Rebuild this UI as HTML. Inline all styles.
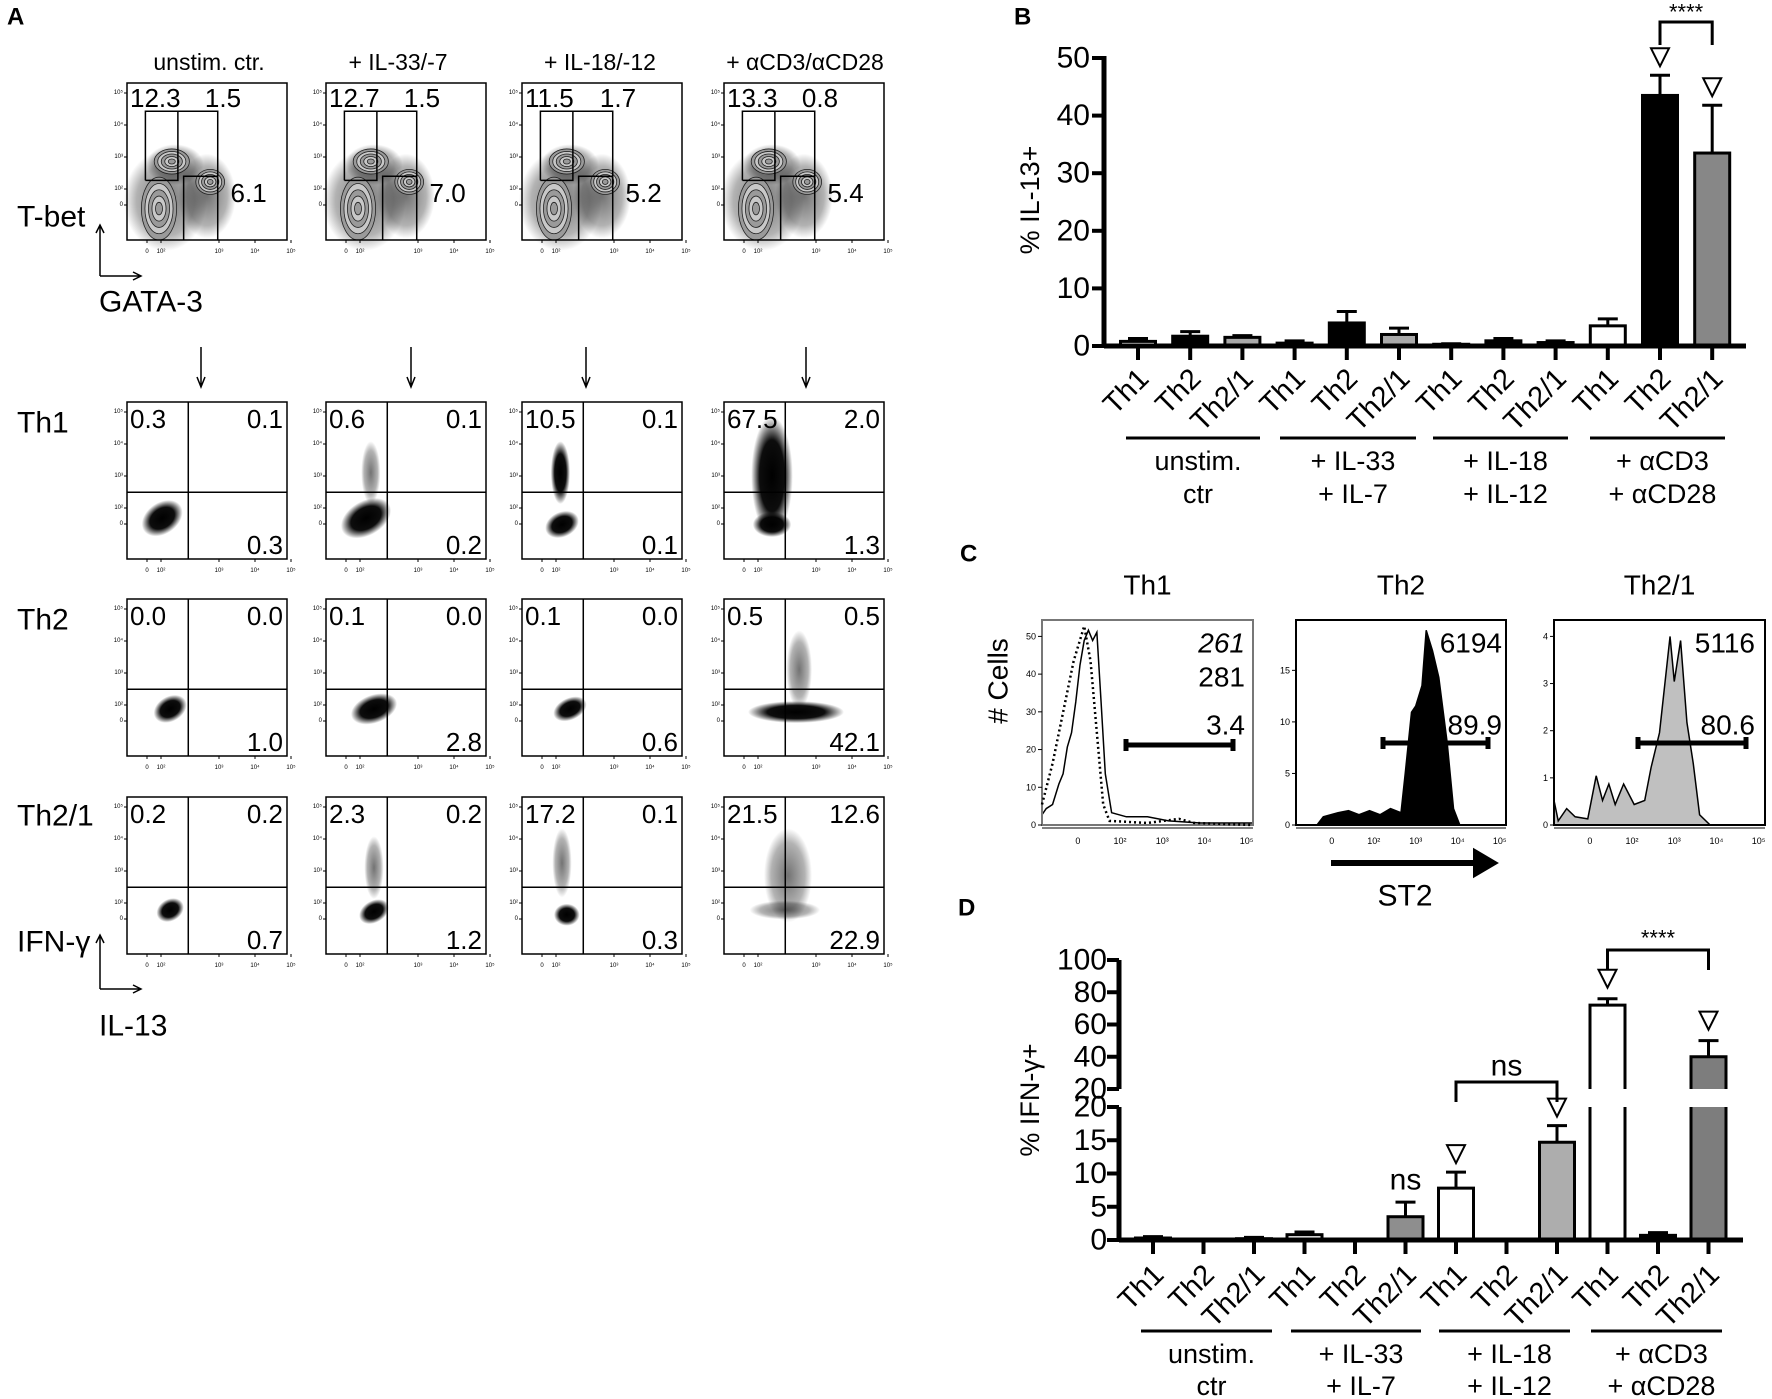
<!DOCTYPE html>
<html><head><meta charset="utf-8">
<style>
html,body{margin:0;padding:0;background:#fff;}
svg{display:block;}
text{font-family:"Liberation Sans",Arial,sans-serif;fill:#000;}
</style></head>
<body>
<svg id="fig" xmlns="http://www.w3.org/2000/svg" width="1772" height="1399" viewBox="0 0 1772 1399">
<defs>
<radialGradient id="blob"><stop offset="0" stop-color="#000" stop-opacity="1"/><stop offset="0.6" stop-color="#000" stop-opacity="0.95"/><stop offset="1" stop-color="#000" stop-opacity="0"/></radialGradient>
<radialGradient id="blobLight"><stop offset="0" stop-color="#000" stop-opacity="0.55"/><stop offset="0.7" stop-color="#000" stop-opacity="0.3"/><stop offset="1" stop-color="#000" stop-opacity="0"/></radialGradient>
</defs>
</svg>
<script>
// ===== Panel B data =====
const catsB = ["Th1","Th2","Th2/1","Th1","Th2","Th2/1","Th1","Th2","Th2/1","Th1","Th2","Th2/1"];
const valsB = [0.8,1.7,1.5,0.5,4.0,2.0,0.3,0.9,0.6,3.5,43.5,33.5];
const errB  = [1.3,2.5,1.8,0.9,6.0,3.1,0.4,1.3,0.9,4.7,47.0,41.8];
const ticksB = [0,10,20,30,40,50];
// ===== Panel D data =====
const catsD = ["Th1","Th2","Th2/1","Th1","Th2","Th2/1","Th1","Th2","Th2/1","Th1","Th2","Th2/1"];
const valsD = [0.3,0,0.2,0.8,0,3.5,7.8,0.1,14.7,72,0.7,40];
const errD  = [0.5,0,0.4,1.2,0,5.7,10.2,0.1,17.2,76,1.1,50];
const ticksDLow = [0,5,10,15,20];
const ticksDHigh = [20,40,60,80,100];
const groups = [["unstim.","ctr"],["+ IL-33","+ IL-7"],["+ IL-18","+ IL-12"],["+ \u03b1CD3","+ \u03b1CD28"]];

const NS="http://www.w3.org/2000/svg";
const svg=document.getElementById('fig');
function mk(tag,attrs,parent){const e=document.createElementNS(NS,tag);for(const k in attrs)e.setAttribute(k,attrs[k]);(parent||svg).appendChild(e);return e;}
function txt(s,x,y,size,anchor,parent,extra){const t=mk('text',Object.assign({x:x,y:y,'font-size':size,'text-anchor':anchor||'start','dominant-baseline':'central'},extra||{}),parent);t.textContent=s;return t;}

// ===== panel letters =====
[["A",7,17],["B",1014,17],["C",960,554],["D",958,908]].forEach(p=>{
  const t=txt(p[0],p[1],p[2],24,'start',null,{'font-weight':'bold'});
  
  
});

// ===== Panel B =====
const gB=mk('g',{});


const bAxisX=1104, bRight=1746, bY0=346, bPer=5.76;
function yB(v){return bY0-v*bPer;}
function xBar(i,first,step){return first+i*step;}
const bFirst=1138, bStep=52.2, bW=35;
const fillsB=["#fff","#000","#a9a9a9","#fff","#000","#a9a9a9","#fff","#000","#a9a9a9","#fff","#000","#878787"];
for(let i=0;i<valsB.length;i++){
  const cx=xBar(i,bFirst,bStep);
  const er=mk('line',{x1:cx,x2:cx,y1:yB(valsB[i]),y2:yB(errB[i]),stroke:'#000','stroke-width':3},gB);
  
  
  const cap=mk('line',{x1:cx-10,x2:cx+10,y1:yB(errB[i]),y2:yB(errB[i]),stroke:'#000','stroke-width':3},gB);
  
  
  const r=mk('rect',{x:cx-bW/2,y:yB(valsB[i]),width:bW,height:Math.max(bY0-yB(valsB[i]),0.5),fill:fillsB[i],stroke:'#000','stroke-width':3},gB);
  
  
  const tk=mk('line',{x1:cx,x2:cx,y1:bY0,y2:bY0+14,stroke:'#000','stroke-width':4},gB);
  
  
  const lb=txt(catsB[i],0,0,29,'end',gB,{transform:'translate('+(cx+6)+',374) rotate(-45)'});
  
  
}
const axB=mk('line',{x1:bAxisX,x2:bAxisX,y1:yB(50)-2,y2:bY0+2,stroke:'#000','stroke-width':5},gB);


const xaxB=mk('line',{x1:bAxisX,x2:bRight,y1:bY0,y2:bY0,stroke:'#000','stroke-width':5},gB);


ticksB.forEach(t=>{
  const l=mk('line',{x1:bAxisX-12,x2:bAxisX,y1:yB(t),y2:yB(t),stroke:'#000','stroke-width':4},gB);
  
  
  const s=txt(String(t),bAxisX-14,yB(t),30,'end',gB);
  
  
});
const ylB=txt('% IL-13+',0,0,27,'middle',gB,{transform:'translate(1030,200) rotate(-90)'});


const grpLinesB=[[1126,1260],[1280,1416],[1433,1568],[1590,1725]];
grpLinesB.forEach((g,k)=>{
  const l=mk('line',{x1:g[0],x2:g[1],y1:438,y2:438,stroke:'#000','stroke-width':3},gB);
  
  
  const c=(g[0]+g[1])/2+5;
  const t1=txt(groups[k][0],c,461,27,'middle',gB);
  
  
  const t2=txt(groups[k][1],c,494,27,'middle',gB);
  
  
});
function tri(x,y,g,name){const p=mk('path',{d:'M'+(x-9)+','+(y-9)+' L'+(x+9)+','+(y-9)+' L'+x+','+(y+9)+' Z',fill:'#fff',stroke:'#000','stroke-width':2},g);}
tri(xBar(10,bFirst,bStep),yB(errB[10])-18,gB,'marker-b-th2');
tri(xBar(11,bFirst,bStep),yB(errB[11])-18,gB,'marker-b-th21');
const brB=mk('path',{d:'M'+xBar(10,bFirst,bStep)+',45 L'+xBar(10,bFirst,bStep)+',22 L'+xBar(11,bFirst,bStep)+',22 L'+xBar(11,bFirst,bStep)+',45',fill:'none',stroke:'#000','stroke-width':3},gB);


const stB=txt('****',(xBar(10,bFirst,bStep)+xBar(11,bFirst,bStep))/2,12,22,'middle',gB);



// ===== Panel D =====
const gD=mk('g',{});


const dAxisX=1119, dRight=1743, dY0=1240, dLowTop=1107, dHighBot=1089, dHighTop=960;
function yD(v){return v<=20? dY0-v*(dY0-dLowTop)/20 : dHighBot-(v-20)*(dHighBot-dHighTop)/80;}
const dFirst=1153, dStep=50.5, dW=35;
const fillsD=["#000","#000","#000","#fff","#000","#8e8e8e","#fff","#000","#adadad","#fff","#000","#7d7d7d"];
for(let i=0;i<valsD.length;i++){
  const cx=xBar(i,dFirst,dStep);
  const v=valsD[i];
  if(errD[i]>v){
    const er=mk('line',{x1:cx,x2:cx,y1:yD(v),y2:yD(errD[i]),stroke:'#000','stroke-width':3},gD);
    
    
    const cap=mk('line',{x1:cx-10,x2:cx+10,y1:yD(errD[i]),y2:yD(errD[i]),stroke:'#000','stroke-width':3},gD);
    
    
  }
  if(v<=20){
    const r=mk('rect',{x:cx-dW/2,y:yD(v),width:dW,height:Math.max(dY0-yD(v),0.5),fill:fillsD[i],stroke:'#000','stroke-width':3},gD);
    
    
  } else {
    const rf=mk('rect',{x:cx-dW/2,y:dLowTop,width:dW,height:dY0-dLowTop,fill:fillsD[i],stroke:'none'},gD);
    
    
    const r=mk('path',{d:'M'+(cx-dW/2)+','+dY0+' L'+(cx-dW/2)+','+dLowTop+' M'+(cx+dW/2)+','+dLowTop+' L'+(cx+dW/2)+','+dY0,fill:'none',stroke:'#000','stroke-width':3},gD);
    
    
    const ru=mk('path',{d:'M'+(cx-dW/2)+','+dHighBot+' L'+(cx-dW/2)+','+yD(v)+' L'+(cx+dW/2)+','+yD(v)+' L'+(cx+dW/2)+','+dHighBot,fill:fillsD[i],stroke:'#000','stroke-width':3},gD);
    
    
  }
  const tk=mk('line',{x1:cx,x2:cx,y1:dY0,y2:dY0+14,stroke:'#000','stroke-width':4},gD);
  
  
  const lb=txt(catsD[i],0,0,29,'end',gD,{transform:'translate('+(cx+6)+',1270) rotate(-45)'});
  
  
}
const axDL=mk('line',{x1:dAxisX,x2:dAxisX,y1:dLowTop,y2:dY0+2,stroke:'#000','stroke-width':5},gD);


const axDH=mk('line',{x1:dAxisX,x2:dAxisX,y1:dHighTop,y2:dHighBot,stroke:'#000','stroke-width':5},gD);


const xaxD=mk('line',{x1:dAxisX,x2:dRight,y1:dY0,y2:dY0,stroke:'#000','stroke-width':5},gD);


ticksDLow.forEach(t=>{
  const l=mk('line',{x1:dAxisX-12,x2:dAxisX,y1:yD(t),y2:yD(t),stroke:'#000','stroke-width':4},gD);
  
  
  const s=txt(String(t),dAxisX-12,yD(t),30,'end',gD);
  
  
});
ticksDHigh.forEach(t=>{
  const y=t===20?dHighBot:yD(t);
  const l=mk('line',{x1:dAxisX-12,x2:dAxisX,y1:y,y2:y,stroke:'#000','stroke-width':4},gD);
  
  
  const s=txt(String(t),dAxisX-12,y,30,'end',gD);
  
  
});
const ylD=txt('% IFN-\u03b3+',0,0,27,'middle',gD,{transform:'translate(1030,1100) rotate(-90)'});


const grpLinesD=[[1141,1272],[1291,1421],[1439,1570],[1591,1722]];
grpLinesD.forEach((g,k)=>{
  const l=mk('line',{x1:g[0],x2:g[1],y1:1331,y2:1331,stroke:'#000','stroke-width':3},gD);
  
  
  const c=(g[0]+g[1])/2+5;
  const t1=txt(groups[k][0],c,1354,27,'middle',gD);
  
  
  const t2=txt(groups[k][1],c,1386,27,'middle',gD);
  
  
});
tri(xBar(9,dFirst,dStep),yD(errD[9])-20,gD,'marker-d-cd3-th1');
tri(xBar(11,dFirst,dStep),yD(errD[11])-20,gD,'marker-d-cd3-th21');
tri(xBar(6,dFirst,dStep),yD(errD[6])-18,gD,'marker-d-il18-th1');
tri(xBar(8,dFirst,dStep),yD(errD[8])-18,gD,'marker-d-il18-th21');
const nsA=txt('ns',xBar(5,dFirst,dStep),yD(errD[5])-22,30,'middle',gD);


const brD1=mk('path',{d:'M'+xBar(6,dFirst,dStep)+',1102 L'+xBar(6,dFirst,dStep)+',1082 L'+xBar(8,dFirst,dStep)+',1082 L'+xBar(8,dFirst,dStep)+',1102',fill:'none',stroke:'#000','stroke-width':3},gD);


const nsB=txt('ns',xBar(7,dFirst,dStep),1066,30,'middle',gD);


const brD2=mk('path',{d:'M'+xBar(9,dFirst,dStep)+',970 L'+xBar(9,dFirst,dStep)+',950 L'+xBar(11,dFirst,dStep)+',950 L'+xBar(11,dFirst,dStep)+',970',fill:'none',stroke:'#000','stroke-width':3},gD);


const stD=txt('****',xBar(10,dFirst,dStep),938,22,'middle',gD);



// ===== Panel C histograms (decorative shapes) =====
const gC=mk('g',{});


const cTop=620,cBot=825;
const cBoxes=[[1042,1253,"Th1",["0","10","20","30","40","50"]],[1296,1506,"Th2",["0","5","10","15"]],[1554,1765,"Th2/1",["0","1","2","3","4"]]];
const shapes=[
 [[0,.05],[.02,.08],[.05,.1],[.08,.2],[.1,.25],[.12,.38],[.14,.45],[.16,.6],[.18,.78],[.2,.9],[.22,.95],[.24,.9],[.26,.94],[.28,.6],[.3,.25],[.33,.06],[.4,.04],[.5,.04],[.6,.02],[.75,.01],[1,.01]],
 [[.1,0],[.13,.04],[.2,.06],[.25,.07],[.3,.05],[.35,.07],[.4,.05],[.45,.08],[.5,.06],[.52,.25],[.55,.55],[.57,.58],[.6,.68],[.62,.95],[.65,.85],[.68,.72],[.72,.4],[.75,.08],[.78,0]],
 [[0,.12],[.02,.02],[.06,.08],[.1,.04],[.16,.03],[.2,.24],[.23,.12],[.26,.2],[.29,.1],[.33,.2],[.38,.1],[.43,.12],[.46,.28],[.5,.45],[.55,.92],[.57,.7],[.6,.9],[.63,.5],[.66,.3],[.69,.05],[.74,0]]
];
const dotted=[[0,.1],[.05,.3],[.1,.55],[.15,.8],[.2,.97],[.23,.8],[.26,.45],[.29,.1],[.32,.02],[.5,.01],[.65,.03],[.72,.01],[1,0]];
const cFill=['none','#000','#c0c0c0'];
cBoxes.forEach((b,k)=>{
  const w=b[1]-b[0],h=cBot-cTop;
  const pts=shapes[k].map(p=>(b[0]+p[0]*w)+','+(cBot-p[1]*h));
  const path=mk('path',{d:'M'+b[0]+','+cBot+' L'+pts.join(' L')+' L'+b[1]+','+cBot+(k?' Z':''),fill:cFill[k],stroke:'#000','stroke-width':1.5},gC);
  
  
  const box=mk('rect',{x:b[0],y:cTop,width:w,height:h,fill:'none',stroke:k?'#000':'#777','stroke-width':2},gC);
  
  
  const tt=txt(b[2],(b[0]+b[1])/2,585,28,'middle',gC);
  
  
  b[3].forEach((s,j)=>{
    const y=cBot-j*(h*0.92)/(b[3].length-1)*(k===1?0.82:1);
    mk('line',{x1:b[0]-4,x2:b[0],y1:y,y2:y,stroke:'#000','stroke-width':1},gC);
    txt(s,b[0]-6,y,9,'end',gC);
  });
  ["0","10\u00b2","10\u00b3","10\u2074","10\u2075"].forEach((s,j)=>{
    const x=b[0]+w*(0.17+j*0.2);
    txt(s,x,cBot+16,9,'middle',gC);
  });
  mk('line',{x1:b[0],x2:b[1],y1:cBot+3,y2:cBot+3,stroke:'#000','stroke-width':1},gC);
});
const dp=mk('path',{d:'M'+dotted.map(p=>(1042+p[0]*211)+','+(cBot-p[1]*205)).join(' L'),fill:'none',stroke:'#000','stroke-width':2.5,'stroke-dasharray':'2,3'},gC);


[["261",1245,643,'italic'],["281",1245,677,'normal'],["3.4",1245,725,'normal'],["6194",1502,643,'normal'],["89.9",1502,725,'normal'],["5116",1755,643,'normal'],["80.6",1755,725,'normal']].forEach(n=>{
  const t=txt(n[0],n[1],n[2],28,'end',gC,{'font-style':n[3]});
  
  
});
[[1126,1233,745],[1383,1488,743],[1638,1746,743]].forEach((g,k)=>{
  const l=mk('path',{d:'M'+g[0]+','+(g[2]-6)+' L'+g[0]+','+(g[2]+6)+' M'+g[0]+','+g[2]+' L'+g[1]+','+g[2]+' M'+g[1]+','+(g[2]-6)+' L'+g[1]+','+(g[2]+6),stroke:'#000','stroke-width':5,fill:'none'},gC);
  
  
});
const yc=txt('# Cells',0,0,28,'middle',gC,{transform:'translate(998,681) rotate(-90)'});


const arr=mk('path',{d:'M1331,863 L1478,863 M1476,853 L1493,863 L1476,873 Z',stroke:'#000','stroke-width':6,fill:'#000'},gC);


const st2=txt('ST2',1405,896,30,'middle',gC);



// ===== Panel A flow plots (decorative) =====
const gA=mk('g',{});


const colX=[127,326,522,724], colW=160;
const rowY=[83,402,599,797], rowH=157;
const titles=["unstim. ctr.","+ IL-33/-7","+ IL-18/-12","+ \u03b1CD3/\u03b1CD28"];
const titleX=[209,398,600,805];
titles.forEach((s,k)=>{const t=txt(s,titleX[k],62,23,'middle',gA);});
function blob(cx,cy,rx,ry,rot,light,g){mk('ellipse',{cx:cx,cy:cy,rx:rx,ry:ry,fill:light?'url(#blobLight)':'url(#blob)',transform:'rotate('+rot+' '+cx+' '+cy+')'},g);}
function axesTicks(x,y,g){
  ["10\u2075","10\u2074","10\u00b3","10\u00b2","0"].forEach((s,j)=>{const yy=Math.min(y+10+j*(j<4?32:28),y+rowH-18);txt(s,x-4,yy,6,'end',g);mk('line',{x1:x-3,x2:x,y1:yy,y2:yy,stroke:'#000','stroke-width':1},g);});
  ["0","10\u00b2","10\u00b3","10\u2074","10\u2075"].forEach((s,j)=>{const xx=x+20+(j===1?14:0)+(j>1?j*36:0);txt(s,xx,y+rowH+12,6,'middle',g);mk('line',{x1:xx,x2:xx,y1:y+rowH,y2:y+rowH+3,stroke:'#000','stroke-width':1},g);});
}
// top contour row
const topNums=[["12.3","1.5","6.1"],["12.7","1.5","7.0"],["11.5","1.7","5.2"],["13.3","0.8","5.4"]];
for(let c=0;c<4;c++){
  const x=colX[c],y=rowY[0],w=colW,h=rowH;
  const g=mk('g',{},gA);
  
  
  blob(x+w*0.24,y+h*0.75,w*0.26,h*0.32,0,true,g);
  blob(x+w*0.3,y+h*0.52,w*0.18,h*0.13,0,true,g);
  blob(x+w*0.5,y+h*0.72,w*0.18,h*0.27,0,true,g);
  [[0.28,0.5,0.11,0.08],[0.2,0.8,0.11,0.2],[0.52,0.63,0.09,0.08]].forEach(e=>{
    for(let s=5;s>=1;s--){mk('ellipse',{cx:x+w*e[0],cy:y+h*e[1],rx:w*e[2]*s/5,ry:h*e[3]*s/5,fill:s%2?'#9a9a9a':'#c8c8c8',stroke:'#222','stroke-width':0.8},g);}
  });
  mk('path',{d:'M'+(x+w*0.115)+','+(y+h*0.62)+' L'+(x+w*0.115)+','+(y+h*0.18)+' L'+(x+w*0.567)+','+(y+h*0.18)+' L'+(x+w*0.567)+','+(y+h)+' M'+(x+w*0.318)+','+(y+h*0.18)+' L'+(x+w*0.318)+','+(y+h*0.62)+' L'+(x+w*0.115)+','+(y+h*0.62)+' M'+(x+w*0.354)+','+(y+h)+' L'+(x+w*0.354)+','+(y+h*0.594)+' L'+(x+w*0.567)+','+(y+h*0.594),fill:'none',stroke:'#000','stroke-width':1.5},g);
  const box=mk('rect',{x:x,y:y,width:w,height:h,fill:'none',stroke:'#000','stroke-width':1.5},g);
  
  
  axesTicks(x,y,g);
  txt(topNums[c][0],x+3,y+15,26,'start',g);
  txt(topNums[c][1],x+w*0.6,y+15,26,'middle',g);
  txt(topNums[c][2],x+w*0.76,y+h*0.7,26,'middle',g);
}
// scatter rows
const nums=[
 [["0.3","0.1","0.3"],["0.6","0.1","0.2"],["10.5","0.1","0.1"],["67.5","2.0","1.3"]],
 [["0.0","0.0","1.0"],["0.1","0.0","2.8"],["0.1","0.0","0.6"],["0.5","0.5","42.1"]],
 [["0.2","0.2","0.7"],["2.3","0.2","1.2"],["17.2","0.1","0.3"],["21.5","12.6","22.9"]]
];
const clouds=[
 [[[.22,.74,.14,.1,-35,0]],[[.25,.74,.17,.11,-30,0],[.28,.45,.06,.2,0,1]],[[.25,.78,.11,.08,-25,0],[.24,.45,.06,.2,0,0]],[[.3,.47,.13,.38,0,0],[.3,.78,.12,.08,0,0]]],
 [[[.27,.7,.11,.08,-30,0]],[[.3,.7,.15,.09,-20,0]],[[.3,.7,.11,.07,-25,0]],[[.45,.72,.3,.07,0,0],[.47,.45,.08,.25,0,1]]],
 [[[.27,.72,.09,.07,-30,0]],[[.3,.73,.1,.07,-30,0],[.3,.45,.06,.2,0,1]],[[.28,.75,.08,.07,0,0],[.25,.42,.06,.22,0,1]],[[.38,.72,.22,.06,0,1],[.4,.5,.15,.3,0,1]]]
];
for(let r=0;r<3;r++)for(let c=0;c<4;c++){
  const x=colX[c],y=rowY[r+1],w=colW,h=rowH;
  const g=mk('g',{},gA);
  
  
  clouds[r][c].forEach(e=>blob(x+w*e[0],y+h*e[1],w*e[2],h*e[3],e[4],e[5],g));
  mk('line',{x1:x+w*0.383,x2:x+w*0.383,y1:y,y2:y+h,stroke:'#000','stroke-width':1.5},g);
  mk('line',{x1:x,x2:x+w,y1:y+h*0.575,y2:y+h*0.575,stroke:'#000','stroke-width':1.5},g);
  const box=mk('rect',{x:x,y:y,width:w,height:h,fill:'none',stroke:'#000','stroke-width':1.5},g);
  
  
  axesTicks(x,y,g);
  txt(nums[r][c][0],x+3,y+17,26,'start',g);
  txt(nums[r][c][1],x+w-4,y+17,26,'end',g);
  txt(nums[r][c][2],x+w-4,y+h-14,26,'end',g);
}
// row labels and axes arrows
[["T-bet",17,217],["Th1",17,423],["Th2",17,620],["Th2/1",17,816],["IFN-\u03b3",17,942]].forEach(l=>{const t=txt(l[0],l[1],l[2],30,'start',gA);});
[["GATA-3",99,302],["IL-13",99,1026]].forEach(l=>{const t=txt(l[0],l[1],l[2],30,'start',gA);});
[[225,276],[935,989]].forEach(a=>{
  const p=mk('path',{d:'M100,'+a[1]+' L100,'+a[0]+' M96,'+(a[0]+8)+' L100,'+a[0]+' L104,'+(a[0]+8)+' M100,'+a[1]+' L141,'+a[1]+' M133,'+(a[1]-4)+' L141,'+a[1]+' L133,'+(a[1]+4),fill:'none',stroke:'#000','stroke-width':1.5},gA);
  
  
});
[201,411,586,806].forEach(x=>{
  const p=mk('path',{d:'M'+x+',347 L'+x+',386 M'+(x-4)+',377 L'+x+',387 L'+(x+4)+',377',fill:'none',stroke:'#000','stroke-width':1.5},gA);
  
  
});
</script>
</body></html>
